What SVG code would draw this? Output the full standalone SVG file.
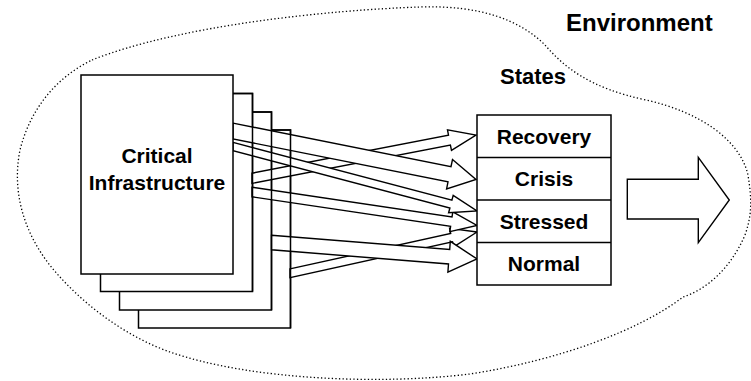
<svg xmlns="http://www.w3.org/2000/svg" width="751" height="381" viewBox="0 0 751 381">
<style>
.box{fill:#fff;stroke:#000;stroke-width:1.5}
.edge{fill:none;stroke:#000;stroke-width:1.5}
.arr{fill:#fff;stroke:#000;stroke-width:1.4;stroke-linejoin:miter}
.lbl{font-family:"Liberation Sans",Arial,sans-serif;font-weight:bold;font-size:21px;fill:#000}
.env{fill:none;stroke:#000;stroke-width:1.3;stroke-dasharray:1.3 2.3}
</style>
<rect width="751" height="381" fill="#fff"/>
<g id="environment">
<path class="env" d="M92,60 C180,25 330,10 420,7 C480,5 520,20 545,45 C565,68 590,88 646,100 C700,112 740,140 748,175 C752,200 752,215 745,235 C730,270 705,290 683,297 C640,330 560,360 470,374 C380,385 250,380 170,352 C130,338 90,310 60,277 C30,245 10,200 20,150 C30,110 55,78 92,60 Z"/>
<text class="lbl" x="566" y="31" style="font-size:24px">Environment</text>
</g>
<g id="ci-stack">
<rect class="box" x="138.5" y="130" width="152" height="198"/>
<rect class="box" x="119.5" y="112" width="152" height="198"/>
<rect class="box" x="100.5" y="93.5" width="152" height="198"/>
</g>
<g id="connectors">
<polygon class="arr" points="252,173.2 448.5,135.2 447.5,129.8 476,135 451.5,150.4 450.4,145 252,183.4"/>
<polygon class="arr" points="290,268.9 450.7,233.5 449.6,228.3 477,232 453.7,246.9 452.5,241.8 290,277.7"/>
<polygon class="arr" points="252,187.2 452,217 452.8,211.8 477,225.5 449.8,231.6 450.6,226.4 252,196.8"/>
<polygon class="arr" points="233,142.4 451.9,200.2 453.2,195.4 477,211 448.6,212.8 449.9,208 233,150.6"/>
<polygon class="arr" points="233,123.1 451,166.6 452.5,159.5 476,179.5 446.6,188.9 448,181.8 233,138.9"/>
<polygon class="arr" points="271.5,235.2 449.7,249.5 450.3,241.3 477,259 447.9,272.2 448.5,264 271.5,249.8"/>
</g>
<g id="ci-edges">
<polyline class="edge" points="233,93.5 252.5,93.5 252.5,291.5"/>
<polyline class="edge" points="252.5,112 271.5,112 271.5,310"/>
<polyline class="edge" points="271.5,130 290.5,130 290.5,328"/>
</g>
<g id="critical-infrastructure">
<rect class="box" x="81" y="75" width="152" height="199"/>
<text class="lbl" x="157" y="163" text-anchor="middle">Critical</text>
<text class="lbl" x="157" y="190" text-anchor="middle">Infrastructure</text>
</g>
<g id="states">
<text class="lbl" x="500" y="84" style="font-size:22px">States</text>
<rect class="box" x="477" y="115" width="134" height="170"/>
<line class="edge" x1="477" y1="157.5" x2="611" y2="157.5"/>
<line class="edge" x1="477" y1="200" x2="611" y2="200"/>
<line class="edge" x1="477" y1="242.5" x2="611" y2="242.5"/>
<text class="lbl" x="544" y="143.8" text-anchor="middle">Recovery</text>
<text class="lbl" x="544" y="186.3" text-anchor="middle">Crisis</text>
<text class="lbl" x="544" y="228.8" text-anchor="middle">Stressed</text>
<text class="lbl" x="544" y="271.3" text-anchor="middle">Normal</text>
</g>
<g id="output-arrow">
<polygon class="arr" points="627.3,179.3 698.3,179.3 698.3,157.3 729.3,200 698.3,242.7 698.3,219 627.3,219"/>
</g>
</svg>
